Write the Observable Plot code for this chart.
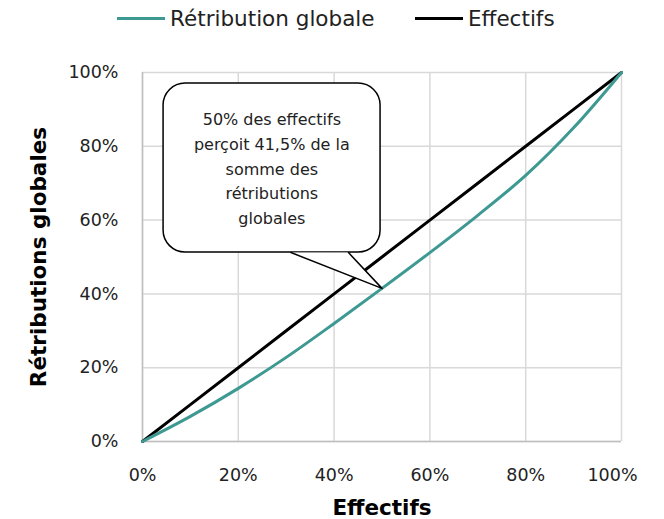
<!DOCTYPE html>
<html>
<head>
<meta charset="utf-8">
<script src="https://cdn.jsdelivr.net/npm/d3@7"></script>
<script src="https://cdn.jsdelivr.net/npm/@observablehq/plot@0.6"></script>
<style>
  body { margin: 0; background: #fff; font-family: "DejaVu Sans", sans-serif; }
  #wrap { width: 664px; position: relative; }
  #legend { height: 36px; font-size: 21.5px; color: #222; position: relative; }
  .item { position: absolute; display: flex; align-items: center; top: 4px; height: 28px; }
  .sw { width: 48px; height: 3px; margin-right: 5px; }
</style>
</head>
<body>
<div id="wrap">
  <div id="legend"></div>
  <div id="chart"></div>
</div>
<script>
// Data
const effectifs = [0, 0.1, 0.2, 0.3, 0.4, 0.5, 0.6, 0.7, 0.8, 0.9, 1];
const retribution = [0, 0.068, 0.144, 0.228, 0.32, 0.415, 0.512, 0.613, 0.721, 0.85, 1];
const seriesNames = ["Rétribution globale", "Effectifs"];
const seriesColors = ["#3d9991", "#000000"];
const ticks = [0, 0.2, 0.4, 0.6, 0.8, 1];
const calloutLines = ["50% des effectifs", "perçoit 41,5% de la", "somme des", "rétributions", "globales"];

const lorenz = effectifs.map((x, i) => ({x, y: retribution[i]}));
const equality = effectifs.map(x => ({x, y: x}));

// legend
const legend = document.getElementById("legend");
const legendPos = [117, 415];
seriesNames.forEach((name, i) => {
  const it = document.createElement("div");
  it.className = "item";
  it.style.left = legendPos[i] + "px";
  it.innerHTML = `<span class="sw" style="background:${seriesColors[i]}"></span><span>${name}</span>`;
  legend.appendChild(it);
});

// callout geometry (data coordinates)
const box = [{x1: 0.044, x2: 0.497, y1: 0.512, y2: 0.97}];
const tail = [
  {x: 0.31, y: 0.512},
  {x: 0.5, y: 0.415},
  {x: 0.43, y: 0.512}
];

const fmt = d => Math.round(d * 100) + "%";

const chart = Plot.plot({
  width: 664,
  height: 483,
  marginLeft: 142,
  marginRight: 43,
  marginTop: 36,
  marginBottom: 78,
  style: {fontFamily: "'DejaVu Sans', sans-serif", fontSize: "17.5px", color: "#222", background: "white"},
  x: {domain: [0, 1], ticks, tickFormat: fmt, tickSize: 0, tickPadding: 27, label: "Effectifs", labelArrow: "none", labelAnchor: "center", labelOffset: 73},
  y: {domain: [0, 1], ticks, tickFormat: fmt, tickSize: 0, tickPadding: 24, label: "Rétributions globales", labelArrow: "none", labelAnchor: "center", labelOffset: 112},
  marks: [
    Plot.gridX(ticks, {stroke: "#d9d9d9", strokeOpacity: 1, strokeWidth: 1.5}),
    Plot.gridY(ticks, {stroke: "#d9d9d9", strokeOpacity: 1, strokeWidth: 1.5}),
    Plot.ruleX([0], {stroke: "#bfbfbf", strokeWidth: 1.5}),
    Plot.ruleY([0], {stroke: "#bfbfbf", strokeWidth: 1.5}),
    Plot.line(equality, {x: "x", y: "y", stroke: seriesColors[1], strokeWidth: 3}),
    Plot.line(lorenz, {x: "x", y: "y", stroke: seriesColors[0], strokeWidth: 3, curve: "catmull-rom"}),
    Plot.rect(box, {x1: "x1", x2: "x2", y1: "y1", y2: "y2", fill: "white", stroke: "black", strokeWidth: 1.5, rx: 22}),
    Plot.line(tail, {x: "x", y: "y", fill: "white", stroke: "black", strokeWidth: 1.5, curve: "linear"}),
    Plot.text([calloutLines.join("\n")], {x: 0.27, y: 0.745, text: d => d, fontSize: 16, lineHeight: 1.55, fill: "#222"})
  ]
});

// style axis labels bold, strip any arrows
chart.querySelectorAll("[aria-label='x-axis label'] text, [aria-label='y-axis label'] text").forEach(t => {
  t.textContent = t.textContent.replace(/[\s]*[→←↑↓][\s]*/g, "").trim();
  t.style.fontWeight = "bold";
  t.style.fontSize = "21.5px";
  t.style.fill = "#000";
});
// last x tick label nudged inward like the original
const xt = chart.querySelectorAll("[aria-label='x-axis tick label'] text");
if (xt.length) xt[xt.length - 1].setAttribute("dx", "-9");
document.getElementById("chart").appendChild(chart);
</script>
</body>
</html>
